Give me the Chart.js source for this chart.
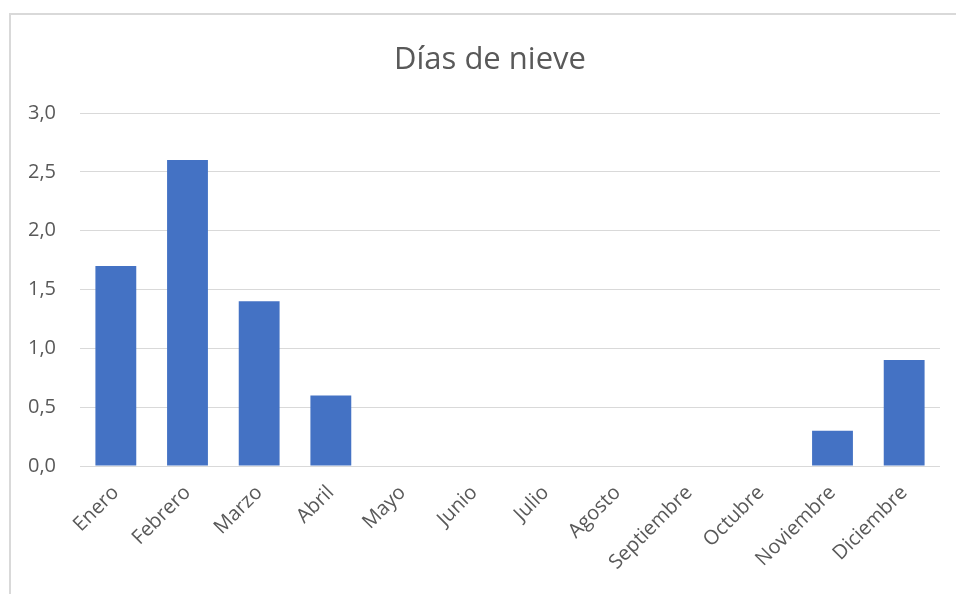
<!DOCTYPE html>
<html>
<head>
<meta charset="utf-8">
<script src="https://cdn.jsdelivr.net/npm/chart.js@4/dist/chart.umd.min.js"></script>
<style>
  body { margin: 0; background: #fff; }
  #wrap { position: relative; width: 956px; height: 594px; overflow: hidden; }
  #frame { position: absolute; left: 9px; top: 13px; width: 1000px; height: 700px;
           border-left: 2px solid #d9d9d9; border-top: 2px solid #d9d9d9; }
  canvas { position: absolute; left: 0; top: 0; }
</style>
</head>
<body>
<div id="wrap">
  <div id="frame"></div>
  <canvas id="chart" width="956" height="594"></canvas>
</div>
<script>
// data
const months = ['Enero', 'Febrero', 'Marzo', 'Abril', 'Mayo', 'Junio', 'Julio',
                'Agosto', 'Septiembre', 'Octubre', 'Noviembre', 'Diciembre']
const snowDays = [1.7, 2.6, 1.4, 0.6, 0, 0, 0, 0, 0, 0, 0.3, 0.9]
const chartTitle = 'Días de nieve'

const textColor = '#595959'
const fontFamily = "'Open Sans', sans-serif"

// the title sits a bit right of the canvas centre, so draw it by hand
const titlePlugin = {
  id: 'offsetTitle',
  afterDraw(chart) {
    const ctx = chart.ctx
    ctx.save()
    ctx.font = `31px ${fontFamily}`
    ctx.fillStyle = textColor
    ctx.textAlign = 'center'
    ctx.textBaseline = 'alphabetic'
    ctx.fillText(chartTitle, 490, 69)
    ctx.restore()
  }
}

const chart = new Chart(document.getElementById('chart'), {
  type: 'bar',
  data: {
    labels: months,
    datasets: [{
      data: snowDays,
      backgroundColor: '#4472C4',
      borderWidth: 0,
      barPercentage: 0.57,
      categoryPercentage: 1
    }]
  },
  options: {
    responsive: false,
    animation: false,
    layout: { padding: { left: 20, right: 16, top: 113, bottom: 0 } },
    plugins: {
      legend: { display: false },
      tooltip: { enabled: false },
      title: { display: false }
    },
    scales: {
      x: {
        grid: { display: false, drawTicks: false },
        border: { display: false },
        ticks: {
          color: textColor,
          font: { family: fontFamily, size: 20 },
          minRotation: 45,
          maxRotation: 45,
          autoSkip: false,
          padding: 15
        },
        afterFit: (scale) => { scale.height = 128 }
      },
      y: {
        min: 0,
        max: 3,
        grid: { color: '#d9d9d9', lineWidth: 1, drawTicks: false },
        border: { display: false },
        ticks: {
          stepSize: 0.5,
          color: textColor,
          font: { family: fontFamily, size: 20 },
          padding: 24,
          callback: (v) => v.toFixed(1).replace('.', ',')
        },
        afterFit: (scale) => { scale.width = 60 }
      }
    }
  },
  plugins: [titlePlugin]
})
</script>
</body>
</html>
